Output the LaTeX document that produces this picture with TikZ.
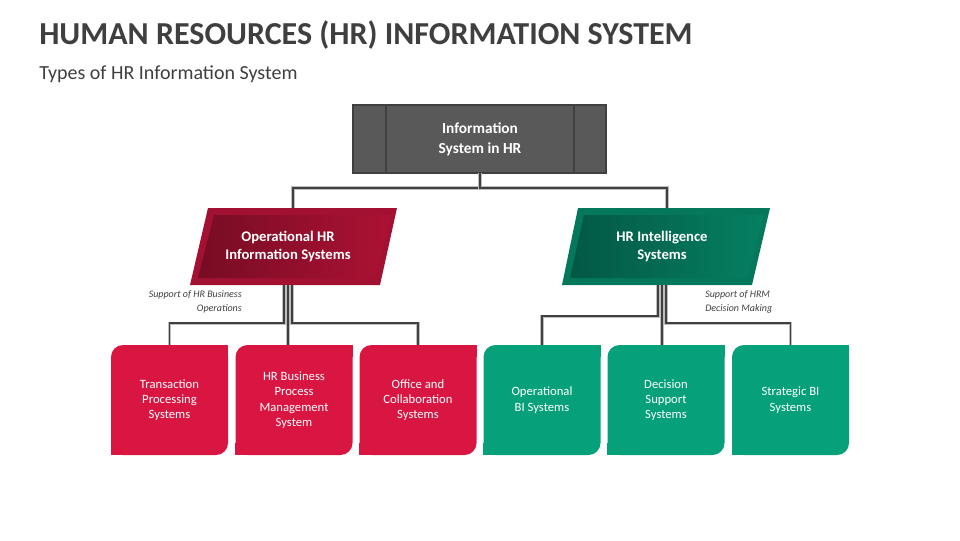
\documentclass[tikz,border=0pt]{standalone}
\usepackage{fontspec}
\setmainfont{Carlito}
\usetikzlibrary{calc}
\definecolor{hrgray}{HTML}{595959}
\definecolor{hrred}{HTML}{D81641}
\definecolor{hrgreen}{HTML}{06A07A}
\definecolor{titlegray}{HTML}{3F3F3F}
\tikzset{
  leaf/.style={minimum width=87.75pt,minimum height=82.5pt,inner sep=2pt,align=center,
    text=white,font=\fontsize{9.5}{11.5}\selectfont,rounded corners=9pt},
  link/.style={draw=black!25,line width=2.6pt,postaction={draw=black!75,line width=1.4pt}},
  note/.style={font=\itshape\fontsize{7.5}{11}\selectfont,text=black!75,inner sep=0pt},
  para/.style={minimum width=142pt,minimum height=57.75pt,align=center,text=white,
    font=\bfseries\fontsize{11}{14}\selectfont}
}
\newcommand{\squarecorners}[2]{%
  \fill[#2] (#1.north east) rectangle ++(-12,12);
  \fill[#2] (#1.south west) rectangle ++(12,-12);}
\begin{document}
\begin{tikzpicture}[x=0.75pt,y=-0.75pt]
\useasboundingbox (0,0) rectangle (960,540);
% titles
\node[anchor=west,inner sep=0pt,text=titlegray,font=\bfseries\fontsize{24}{28}\selectfont] (title) at (39,35) {HUMAN RESOURCES (HR) INFORMATION SYSTEM};
\node[anchor=west,inner sep=0pt,text=titlegray,font=\fontsize{15}{18}\selectfont] (sub) at (39,74) {Types of HR Information System};
% root
\fill[hrgray,draw=black!75,line width=1pt] (353,105) rectangle (606,173);
\draw[black!75,line width=0.8pt] (386,105) -- (386,173) (574,105) -- (574,173);
\node[text=white,align=center,font=\bfseries\fontsize{11.5}{15}\selectfont] (info) at (480,139) {Information\\System in HR};
\coordinate (infos) at (480,173);
% parallelograms
\fill[hrred!75!black] (208,208) -- (397,208) -- (380,285) -- (190,285) -- cycle;
\shade[left color=hrred!55!black,right color=hrred!80!black] (214,215) -- (391,215) -- (375,278) -- (198,278) -- cycle;
\node[para] (ophr) at (288,246.5) {Operational HR\\Information Systems};
\fill[hrgreen!75!black] (578,208) -- (770,208) -- (752,285) -- (562,285) -- cycle;
\shade[left color=hrgreen!55!black,right color=hrgreen!80!black] (584,215) -- (764,215) -- (747,278) -- (570,278) -- cycle;
\node[para] (hris) at (662,246.5) {HR Intelligence\\Systems};
% leaves
\node[leaf,fill=hrred] (tps) at (169.5,400) {Transaction\\Processing\\Systems};
\node[leaf,fill=hrred] (bpm) at (294,400) {HR Business\\Process\\Management\\System};
\node[leaf,fill=hrred] (ocs) at (418,400) {Office and\\Collaboration\\Systems};
\node[leaf,fill=hrgreen] (obi) at (542,400) {Operational\\BI Systems};
\node[leaf,fill=hrgreen] (dss) at (666,400) {Decision\\Support\\Systems};
\node[leaf,fill=hrgreen] (sbi) at (790.5,400) {Strategic BI\\Systems};
\squarecorners{tps}{hrred}
\squarecorners{bpm}{hrred}
\squarecorners{ocs}{hrred}
\squarecorners{obi}{hrgreen}
\squarecorners{dss}{hrgreen}
\squarecorners{sbi}{hrgreen}
% connectors
\draw[link] (infos) -- ++(0,15) -| ($(ophr.north)+(5,0)$);
\draw[link] (infos) -- ++(0,15) -| ($(hris.north)+(5,0)$);
\draw[link] ($(ophr.south)+(-4,0)$) -- ++(0,38) -| (tps.north);
\draw[link] (ophr.south) -- (ophr.south |- bpm.north);
\draw[link] ($(ophr.south)+(4,0)$) -- ++(0,38) -| (ocs.north);
\draw[link] ($(hris.south)+(-4,0)$) -- ++(0,31) -| (obi.north);
\draw[link] (hris.south) -- (hris.south |- dss.north);
\draw[link] ($(hris.south)+(4,0)$) -- ++(0,38) -| (sbi.north);
% notes
\node[note,anchor=north east,align=right] (opnote) at (242,290) {Support of HR Business\\Operations};
\node[note,anchor=north west,align=left] (hrnote) at (705,290) {Support of HRM\\Decision Making};
\end{tikzpicture}
\end{document}
